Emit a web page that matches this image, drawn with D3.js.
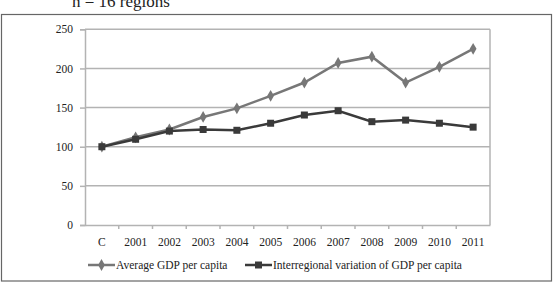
<!DOCTYPE html>
<html>
<head>
<meta charset="utf-8">
<script src="https://cdn.jsdelivr.net/npm/d3@7"></script>
<style>
  body { margin: 0; background: #fff; }
  svg { display: block; }
  text { font-family: "Liberation Serif", "Times New Roman", serif; fill: #222; }
</style>
</head>
<body>
<div id="chart"></div>
<script>
// données
const categories = ["C", "2001", "2002", "2003", "2004", "2005", "2006", "2007", "2008", "2009", "2010", "2011"];
const averageGdp = [100, 112, 122, 138, 149, 165, 182, 207, 215, 182, 202, 225];
const interregionalVariation = [100, 109.5, 120, 122, 121, 130, 140.5, 146, 132, 134, 130, 125];
const yTicks = [0, 50, 100, 150, 200, 250];
const seriesNames = ["Average GDP per capita", "Interregional variation of GDP per capita"];

const width = 554, height = 288;
const margin = { left: 85, right: 64, top: 29.3, bottom: 63 };

const svg = d3.select("#chart")
    .append("svg")
    .attr("width", width)
    .attr("height", height);

// titre coupé en haut (comme sur l'original)
svg.append("text")
    .attr("x", 72)
    .attr("y", 7)
    .style("font-size", "17px")
    .text("n = 16 regions");

// cadre extérieur
svg.append("rect")
    .attr("x", 1.5)
    .attr("y", 14.5)
    .attr("width", 550)
    .attr("height", 266.5)
    .attr("fill", "none")
    .attr("stroke", "#666")
    .attr("stroke-width", 1.2);

const x = d3.scaleBand()
    .domain(categories)
    .range([margin.left, width - margin.right]);

const y = d3.scaleLinear()
    .domain([0, 250])
    .range([height - margin.bottom, margin.top]);

const gridColor = "#b3b3b3";

// lignes de grille
svg.selectAll(".grid")
    .data(yTicks.filter(d => d > 0))
    .join("line")
    .attr("class", "grid")
    .attr("x1", margin.left)
    .attr("x2", width - margin.right)
    .attr("y1", d => y(d))
    .attr("y2", d => y(d))
    .attr("stroke", gridColor)
    .attr("stroke-width", 1.5);

// bord droit
svg.append("line")
    .attr("x1", width - margin.right)
    .attr("x2", width - margin.right)
    .attr("y1", y(250))
    .attr("y2", y(0))
    .attr("stroke", gridColor)
    .attr("stroke-width", 1.5);

// axe Y
const yAxis = svg.append("g")
    .attr("transform", `translate(${margin.left},0)`)
    .call(d3.axisLeft(y).tickValues(yTicks).tickSize(5).tickPadding(7));
yAxis.attr("font-family", null);
yAxis.select(".domain").attr("stroke", gridColor).attr("stroke-width", 1.5);
yAxis.selectAll(".tick line").attr("stroke", gridColor).attr("stroke-width", 1.5);
yAxis.selectAll("text").style("font-size", "11.5px").attr("fill", "#222");

// axe X : graduations entre les catégories
const xAxis = svg.append("g")
    .attr("transform", `translate(0,${y(0)})`)
    .call(d3.axisBottom(x).tickSize(0).tickPadding(13));
xAxis.attr("font-family", null);
xAxis.select(".domain").attr("stroke", gridColor).attr("stroke-width", 1.5);
xAxis.selectAll("text").style("font-size", "11.5px").attr("fill", "#222");

svg.selectAll(".xtick")
    .data(categories.slice(1))
    .join("line")
    .attr("class", "xtick")
    .attr("x1", d => x(d))
    .attr("x2", d => x(d))
    .attr("y1", y(0))
    .attr("y2", y(0) + 4)
    .attr("stroke", gridColor)
    .attr("stroke-width", 1.5);

const cx = d => x(d) + x.bandwidth() / 2;
const line = d3.line()
    .x((d, i) => cx(categories[i]))
    .y(d => y(d));

const avgColor = "#777", varColor = "#3a3a3a";

// série 1 : moyenne
svg.append("path")
    .datum(averageGdp)
    .attr("d", line)
    .attr("fill", "none")
    .attr("stroke", avgColor)
    .attr("stroke-width", 2.5);

const diamond = d3.symbol().type(d3.symbolDiamond).size(40);
svg.selectAll(".avg-pt")
    .data(averageGdp)
    .join("path")
    .attr("class", "avg-pt")
    .attr("d", diamond)
    .attr("transform", (d, i) => `translate(${cx(categories[i])},${y(d)})`)
    .attr("fill", avgColor);

// série 2 : variation interrégionale
svg.append("path")
    .datum(interregionalVariation)
    .attr("d", line)
    .attr("fill", "none")
    .attr("stroke", varColor)
    .attr("stroke-width", 2.5);

svg.selectAll(".var-pt")
    .data(interregionalVariation)
    .join("rect")
    .attr("class", "var-pt")
    .attr("x", (d, i) => cx(categories[i]) - 3.5)
    .attr("y", d => y(d) - 3.5)
    .attr("width", 7)
    .attr("height", 7)
    .attr("fill", varColor);

// légende
const legendY = 265;
const legendItems = [
    { name: seriesNames[0], color: avgColor, x0: 88, shape: "diamond" },
    { name: seriesNames[1], color: varColor, x0: 245, shape: "square" }
];
legendItems.forEach(item => {
    svg.append("line")
        .attr("x1", item.x0).attr("x2", item.x0 + 27)
        .attr("y1", legendY).attr("y2", legendY)
        .attr("stroke", item.color)
        .attr("stroke-width", 2.5);
    if (item.shape === "diamond") {
        svg.append("path")
            .attr("d", diamond)
            .attr("transform", `translate(${item.x0 + 13.5},${legendY})`)
            .attr("fill", item.color);
    } else {
        svg.append("rect")
            .attr("x", item.x0 + 10).attr("y", legendY - 3.5)
            .attr("width", 7).attr("height", 7)
            .attr("fill", item.color);
    }
    svg.append("text")
        .attr("x", item.x0 + 28)
        .attr("y", legendY + 4)
        .style("font-size", "11.5px")
        .text(item.name);
});
</script>
</body>
</html>
